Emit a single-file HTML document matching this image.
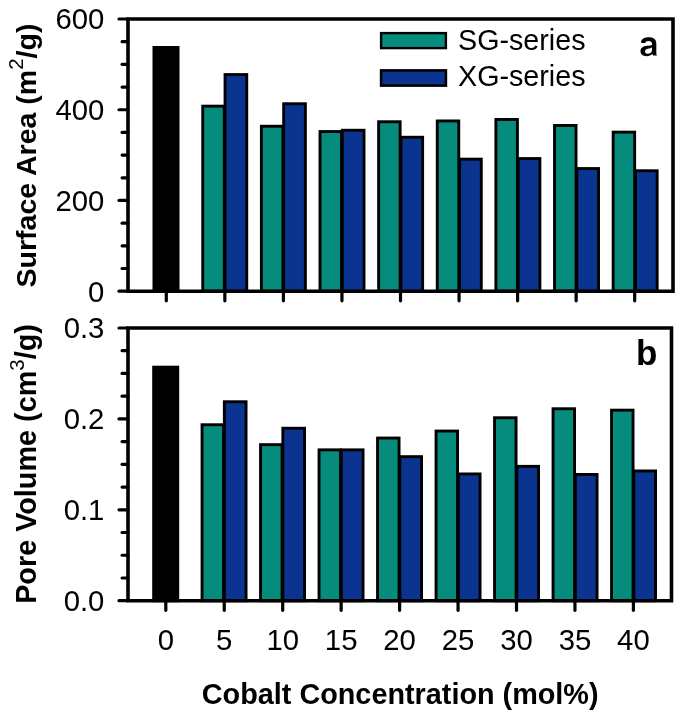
<!DOCTYPE html>
<html><head><meta charset="utf-8"><style>
html,body{margin:0;padding:0;background:#fff;}
body{width:685px;height:718px;overflow:hidden;}
svg{display:block;will-change:transform;filter:blur(0.45px);}
text{font-family:"Liberation Sans",sans-serif;fill:#000;}
.tl{font-size:29.3px;}
.ti{font-size:28.8px;font-weight:bold;}
.pl{font-size:35px;font-weight:bold;}
.lg{font-size:28.7px;}
</style></head><body>
<svg width="685" height="718" viewBox="0 0 685 718">
<rect width="685" height="718" fill="#fff"/>
<rect x="153.95" y="47.45" width="24.10" height="243.75" fill="#000" stroke="#000" stroke-width="2.9"/>
<rect x="202.75" y="106.15" width="21.50" height="185.05" fill="#058C7C" stroke="#000" stroke-width="2.9"/>
<rect x="225.05" y="74.55" width="21.70" height="216.65" fill="#0A3490" stroke="#000" stroke-width="2.9"/>
<rect x="261.38" y="126.25" width="21.50" height="164.95" fill="#058C7C" stroke="#000" stroke-width="2.9"/>
<rect x="283.68" y="103.75" width="21.70" height="187.45" fill="#0A3490" stroke="#000" stroke-width="2.9"/>
<rect x="320.01" y="131.55" width="21.50" height="159.65" fill="#058C7C" stroke="#000" stroke-width="2.9"/>
<rect x="342.31" y="130.25" width="21.70" height="160.95" fill="#0A3490" stroke="#000" stroke-width="2.9"/>
<rect x="378.64" y="121.75" width="21.50" height="169.45" fill="#058C7C" stroke="#000" stroke-width="2.9"/>
<rect x="400.94" y="137.25" width="21.70" height="153.95" fill="#0A3490" stroke="#000" stroke-width="2.9"/>
<rect x="437.27" y="120.95" width="21.50" height="170.25" fill="#058C7C" stroke="#000" stroke-width="2.9"/>
<rect x="459.57" y="159.15" width="21.70" height="132.05" fill="#0A3490" stroke="#000" stroke-width="2.9"/>
<rect x="495.90" y="119.45" width="21.50" height="171.75" fill="#058C7C" stroke="#000" stroke-width="2.9"/>
<rect x="518.20" y="158.55" width="21.70" height="132.65" fill="#0A3490" stroke="#000" stroke-width="2.9"/>
<rect x="554.53" y="125.45" width="21.50" height="165.75" fill="#058C7C" stroke="#000" stroke-width="2.9"/>
<rect x="576.83" y="168.55" width="21.70" height="122.65" fill="#0A3490" stroke="#000" stroke-width="2.9"/>
<rect x="613.16" y="132.15" width="21.50" height="159.05" fill="#058C7C" stroke="#000" stroke-width="2.9"/>
<rect x="635.46" y="170.75" width="21.70" height="120.45" fill="#0A3490" stroke="#000" stroke-width="2.9"/>
<path d="M128 291.2 V19 H673 V291.2 Z" fill="none" stroke="#000" stroke-width="3.6" stroke-linejoin="miter"/>
<line x1="119.00" y1="291.20" x2="128" y2="291.20" stroke="#000" stroke-width="3.2" stroke-linecap="round"/>
<line x1="122.10" y1="268.52" x2="128" y2="268.52" stroke="#000" stroke-width="3.2" stroke-linecap="round"/>
<line x1="122.10" y1="245.83" x2="128" y2="245.83" stroke="#000" stroke-width="3.2" stroke-linecap="round"/>
<line x1="122.10" y1="223.15" x2="128" y2="223.15" stroke="#000" stroke-width="3.2" stroke-linecap="round"/>
<line x1="119.00" y1="200.47" x2="128" y2="200.47" stroke="#000" stroke-width="3.2" stroke-linecap="round"/>
<line x1="122.10" y1="177.78" x2="128" y2="177.78" stroke="#000" stroke-width="3.2" stroke-linecap="round"/>
<line x1="122.10" y1="155.10" x2="128" y2="155.10" stroke="#000" stroke-width="3.2" stroke-linecap="round"/>
<line x1="122.10" y1="132.42" x2="128" y2="132.42" stroke="#000" stroke-width="3.2" stroke-linecap="round"/>
<line x1="119.00" y1="109.73" x2="128" y2="109.73" stroke="#000" stroke-width="3.2" stroke-linecap="round"/>
<line x1="122.10" y1="87.05" x2="128" y2="87.05" stroke="#000" stroke-width="3.2" stroke-linecap="round"/>
<line x1="122.10" y1="64.37" x2="128" y2="64.37" stroke="#000" stroke-width="3.2" stroke-linecap="round"/>
<line x1="122.10" y1="41.68" x2="128" y2="41.68" stroke="#000" stroke-width="3.2" stroke-linecap="round"/>
<line x1="119.00" y1="19.00" x2="128" y2="19.00" stroke="#000" stroke-width="3.2" stroke-linecap="round"/>
<line x1="166.30" y1="291.2" x2="166.30" y2="300.80" stroke="#000" stroke-width="3.2" stroke-linecap="round"/>
<line x1="224.85" y1="291.2" x2="224.85" y2="300.80" stroke="#000" stroke-width="3.2" stroke-linecap="round"/>
<line x1="283.40" y1="291.2" x2="283.40" y2="300.80" stroke="#000" stroke-width="3.2" stroke-linecap="round"/>
<line x1="341.95" y1="291.2" x2="341.95" y2="300.80" stroke="#000" stroke-width="3.2" stroke-linecap="round"/>
<line x1="400.50" y1="291.2" x2="400.50" y2="300.80" stroke="#000" stroke-width="3.2" stroke-linecap="round"/>
<line x1="459.05" y1="291.2" x2="459.05" y2="300.80" stroke="#000" stroke-width="3.2" stroke-linecap="round"/>
<line x1="517.60" y1="291.2" x2="517.60" y2="300.80" stroke="#000" stroke-width="3.2" stroke-linecap="round"/>
<line x1="576.15" y1="291.2" x2="576.15" y2="300.80" stroke="#000" stroke-width="3.2" stroke-linecap="round"/>
<line x1="634.70" y1="291.2" x2="634.70" y2="300.80" stroke="#000" stroke-width="3.2" stroke-linecap="round"/>
<text transform="translate(104.4 301.60) scale(1 1.03)" text-anchor="end" class="tl">0</text>
<text transform="translate(104.4 210.87) scale(1 1.03)" text-anchor="end" class="tl">200</text>
<text transform="translate(104.4 120.13) scale(1 1.03)" text-anchor="end" class="tl">400</text>
<text transform="translate(104.4 29.40) scale(1 1.03)" text-anchor="end" class="tl">600</text>
<rect x="153.65" y="367.15" width="24.10" height="233.55" fill="#000" stroke="#000" stroke-width="2.9"/>
<rect x="202.05" y="424.75" width="21.50" height="175.95" fill="#058C7C" stroke="#000" stroke-width="2.9"/>
<rect x="224.35" y="401.75" width="21.70" height="198.95" fill="#0A3490" stroke="#000" stroke-width="2.9"/>
<rect x="260.55" y="444.65" width="21.50" height="156.05" fill="#058C7C" stroke="#000" stroke-width="2.9"/>
<rect x="282.85" y="428.25" width="21.70" height="172.45" fill="#0A3490" stroke="#000" stroke-width="2.9"/>
<rect x="319.05" y="449.85" width="21.50" height="150.85" fill="#058C7C" stroke="#000" stroke-width="2.9"/>
<rect x="341.35" y="449.85" width="21.70" height="150.85" fill="#0A3490" stroke="#000" stroke-width="2.9"/>
<rect x="377.55" y="438.05" width="21.50" height="162.65" fill="#058C7C" stroke="#000" stroke-width="2.9"/>
<rect x="399.85" y="456.65" width="21.70" height="144.05" fill="#0A3490" stroke="#000" stroke-width="2.9"/>
<rect x="436.05" y="431.05" width="21.50" height="169.65" fill="#058C7C" stroke="#000" stroke-width="2.9"/>
<rect x="458.35" y="473.95" width="21.70" height="126.75" fill="#0A3490" stroke="#000" stroke-width="2.9"/>
<rect x="494.55" y="417.75" width="21.50" height="182.95" fill="#058C7C" stroke="#000" stroke-width="2.9"/>
<rect x="516.85" y="466.35" width="21.70" height="134.35" fill="#0A3490" stroke="#000" stroke-width="2.9"/>
<rect x="553.05" y="408.75" width="21.50" height="191.95" fill="#058C7C" stroke="#000" stroke-width="2.9"/>
<rect x="575.35" y="474.45" width="21.70" height="126.25" fill="#0A3490" stroke="#000" stroke-width="2.9"/>
<rect x="611.55" y="410.15" width="21.50" height="190.55" fill="#058C7C" stroke="#000" stroke-width="2.9"/>
<rect x="633.85" y="470.95" width="21.70" height="129.75" fill="#0A3490" stroke="#000" stroke-width="2.9"/>
<path d="M128 600.7 V328 H671.5 V600.7 Z" fill="none" stroke="#000" stroke-width="3.6" stroke-linejoin="miter"/>
<line x1="119.00" y1="600.70" x2="128" y2="600.70" stroke="#000" stroke-width="3.2" stroke-linecap="round"/>
<line x1="122.10" y1="577.98" x2="128" y2="577.98" stroke="#000" stroke-width="3.2" stroke-linecap="round"/>
<line x1="122.10" y1="555.25" x2="128" y2="555.25" stroke="#000" stroke-width="3.2" stroke-linecap="round"/>
<line x1="122.10" y1="532.52" x2="128" y2="532.52" stroke="#000" stroke-width="3.2" stroke-linecap="round"/>
<line x1="119.00" y1="509.80" x2="128" y2="509.80" stroke="#000" stroke-width="3.2" stroke-linecap="round"/>
<line x1="122.10" y1="487.08" x2="128" y2="487.08" stroke="#000" stroke-width="3.2" stroke-linecap="round"/>
<line x1="122.10" y1="464.35" x2="128" y2="464.35" stroke="#000" stroke-width="3.2" stroke-linecap="round"/>
<line x1="122.10" y1="441.62" x2="128" y2="441.62" stroke="#000" stroke-width="3.2" stroke-linecap="round"/>
<line x1="119.00" y1="418.90" x2="128" y2="418.90" stroke="#000" stroke-width="3.2" stroke-linecap="round"/>
<line x1="122.10" y1="396.18" x2="128" y2="396.18" stroke="#000" stroke-width="3.2" stroke-linecap="round"/>
<line x1="122.10" y1="373.45" x2="128" y2="373.45" stroke="#000" stroke-width="3.2" stroke-linecap="round"/>
<line x1="122.10" y1="350.72" x2="128" y2="350.72" stroke="#000" stroke-width="3.2" stroke-linecap="round"/>
<line x1="119.00" y1="328.00" x2="128" y2="328.00" stroke="#000" stroke-width="3.2" stroke-linecap="round"/>
<line x1="165.80" y1="600.7" x2="165.80" y2="610.30" stroke="#000" stroke-width="3.2" stroke-linecap="round"/>
<line x1="224.25" y1="600.7" x2="224.25" y2="610.30" stroke="#000" stroke-width="3.2" stroke-linecap="round"/>
<line x1="282.70" y1="600.7" x2="282.70" y2="610.30" stroke="#000" stroke-width="3.2" stroke-linecap="round"/>
<line x1="341.15" y1="600.7" x2="341.15" y2="610.30" stroke="#000" stroke-width="3.2" stroke-linecap="round"/>
<line x1="399.60" y1="600.7" x2="399.60" y2="610.30" stroke="#000" stroke-width="3.2" stroke-linecap="round"/>
<line x1="458.05" y1="600.7" x2="458.05" y2="610.30" stroke="#000" stroke-width="3.2" stroke-linecap="round"/>
<line x1="516.50" y1="600.7" x2="516.50" y2="610.30" stroke="#000" stroke-width="3.2" stroke-linecap="round"/>
<line x1="574.95" y1="600.7" x2="574.95" y2="610.30" stroke="#000" stroke-width="3.2" stroke-linecap="round"/>
<line x1="633.40" y1="600.7" x2="633.40" y2="610.30" stroke="#000" stroke-width="3.2" stroke-linecap="round"/>
<text transform="translate(104.4 611.10) scale(1 1.03)" text-anchor="end" class="tl">0.0</text>
<text transform="translate(104.4 520.20) scale(1 1.03)" text-anchor="end" class="tl">0.1</text>
<text transform="translate(104.4 429.30) scale(1 1.03)" text-anchor="end" class="tl">0.2</text>
<text transform="translate(104.4 338.40) scale(1 1.03)" text-anchor="end" class="tl">0.3</text>
<text transform="translate(165.80 650.0) scale(1 1.03)" text-anchor="middle" class="tl">0</text>
<text transform="translate(224.25 650.0) scale(1 1.03)" text-anchor="middle" class="tl">5</text>
<text transform="translate(282.70 650.0) scale(1 1.03)" text-anchor="middle" class="tl">10</text>
<text transform="translate(341.15 650.0) scale(1 1.03)" text-anchor="middle" class="tl">15</text>
<text transform="translate(399.60 650.0) scale(1 1.03)" text-anchor="middle" class="tl">20</text>
<text transform="translate(458.05 650.0) scale(1 1.03)" text-anchor="middle" class="tl">25</text>
<text transform="translate(516.50 650.0) scale(1 1.03)" text-anchor="middle" class="tl">30</text>
<text transform="translate(574.95 650.0) scale(1 1.03)" text-anchor="middle" class="tl">35</text>
<text transform="translate(633.40 650.0) scale(1 1.03)" text-anchor="middle" class="tl">40</text>
<text x="400.2" y="703.6" text-anchor="middle" class="ti">Cobalt Concentration (mol%)</text>
<text transform="translate(35.8 155.5) rotate(-90)" text-anchor="middle" class="ti" style="font-size:28.5px">Surface Area (m<tspan font-weight="normal" font-size="20.5" dy="-12.5">2</tspan><tspan dy="12.5">/g)</tspan></text>
<text transform="translate(36.2 464) rotate(-90)" text-anchor="middle" class="ti">Pore Volume (cm<tspan font-weight="normal" font-size="20.5" dy="-12.5">3</tspan><tspan dy="12.5">/g)</tspan></text>
<path transform="translate(638 34) scale(0.033445)" fill-rule="evenodd" fill="#000" d="M95 268 L95 210 C118 135 200 95 315 95 C455 95 548 150 548 285 L548 565 C548 600 556 625 568 645 L445 645 C438 625 434 608 432 592 C392 635 330 662 250 662 C140 662 75 600 75 515 C75 415 150 372 270 355 C340 345 410 338 420 318 L420 295 C420 235 375 210 312 210 C250 210 225 232 218 268 Z M420 395 C400 420 350 428 290 440 C235 452 210 480 210 520 C210 565 245 590 295 590 C370 590 420 545 420 470 Z"/>
<text x="657.3" y="365.2" text-anchor="end" class="pl">b</text>
<rect x="381.1" y="33.1" width="64.8" height="15.0" fill="#058C7C" stroke="#000" stroke-width="2.4"/>
<rect x="381.1" y="70.4" width="64.8" height="15.2" fill="#0A3490" stroke="#000" stroke-width="2.6"/>
<text x="458" y="49.5" class="lg">SG-series</text>
<text x="458" y="85.5" class="lg">XG-series</text>
</svg>
</body></html>
